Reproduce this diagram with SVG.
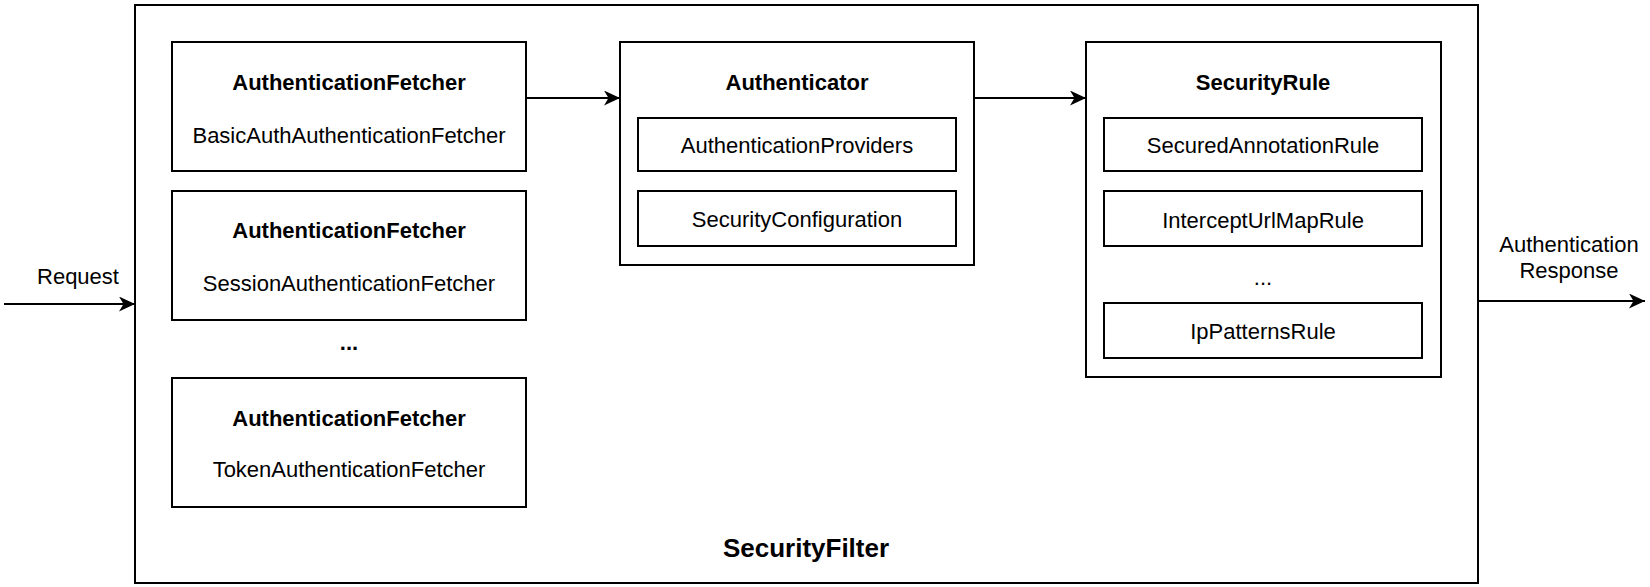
<svg xmlns="http://www.w3.org/2000/svg" width="1650" height="587" viewBox="0 0 1650 587">
<style>
.box{fill:#fff;stroke:#000;stroke-width:2}
.t{font-family:"Liberation Sans",Arial,sans-serif;font-size:22px;text-anchor:middle;fill:#000}
.b{font-weight:bold}
.edge{stroke:#000;stroke-width:2;fill:none}
</style>
<defs>
<marker id="arr" viewBox="0 0 16 15" refX="16" refY="7.5" markerWidth="16" markerHeight="15" markerUnits="userSpaceOnUse" orient="auto">
<path d="M0,0 L16,7.5 L0,15 L4.5,7.5 z" fill="#000"/>
</marker>
</defs>
<rect width="1650" height="587" fill="#fff"/>
<g id="securityFilter">
<rect class="box" x="135" y="5" width="1343" height="578"/>
<text class="t b" x="806" y="557" style="font-size:26px">SecurityFilter</text>
</g>
<g id="fetcher1">
<rect class="box" x="172" y="42" width="354" height="129"/>
<text class="t b" x="349" y="90">AuthenticationFetcher</text>
<text class="t" x="349" y="143">BasicAuthAuthenticationFetcher</text>
</g>
<g id="fetcher2">
<rect class="box" x="172" y="191" width="354" height="129"/>
<text class="t b" x="349" y="238">AuthenticationFetcher</text>
<text class="t" x="349" y="291">SessionAuthenticationFetcher</text>
</g>
<g id="fetcherDots">
<text class="t b" x="349" y="350">...</text>
</g>
<g id="fetcher3">
<rect class="box" x="172" y="378" width="354" height="129"/>
<text class="t b" x="349" y="426">AuthenticationFetcher</text>
<text class="t" x="349" y="477">TokenAuthenticationFetcher</text>
</g>
<g id="authenticator">
<rect class="box" x="620" y="42" width="354" height="223"/>
<text class="t b" x="797" y="90">Authenticator</text>
<g id="authProviders">
<rect class="box" x="638" y="118" width="318" height="53"/>
<text class="t" x="797" y="153">AuthenticationProviders</text>
</g>
<g id="securityConfiguration">
<rect class="box" x="638" y="191" width="318" height="55"/>
<text class="t" x="797" y="227">SecurityConfiguration</text>
</g>
</g>
<g id="securityRule">
<rect class="box" x="1086" y="42" width="355" height="335"/>
<text class="t b" x="1263" y="90">SecurityRule</text>
<g id="securedAnnotationRule">
<rect class="box" x="1104" y="118" width="318" height="53"/>
<text class="t" x="1263" y="153">SecuredAnnotationRule</text>
</g>
<g id="interceptUrlMapRule">
<rect class="box" x="1104" y="191" width="318" height="55"/>
<text class="t" x="1263" y="228">InterceptUrlMapRule</text>
</g>
<text class="t" x="1263" y="285">...</text>
<g id="ipPatternsRule">
<rect class="box" x="1104" y="303" width="318" height="55"/>
<text class="t" x="1263" y="339">IpPatternsRule</text>
</g>
</g>
<g id="connectors">
<line class="edge" x1="526" y1="98" x2="620" y2="98" marker-end="url(#arr)"/>
<line class="edge" x1="974" y1="98" x2="1086" y2="98" marker-end="url(#arr)"/>
<line class="edge" x1="4" y1="304" x2="135" y2="304" marker-end="url(#arr)"/>
<line class="edge" x1="1478" y1="301" x2="1645" y2="301" marker-end="url(#arr)"/>
<text class="t" x="78" y="284">Request</text>
<text class="t" x="1569" y="252">Authentication</text>
<text class="t" x="1569" y="278">Response</text>
</g>
</svg>
